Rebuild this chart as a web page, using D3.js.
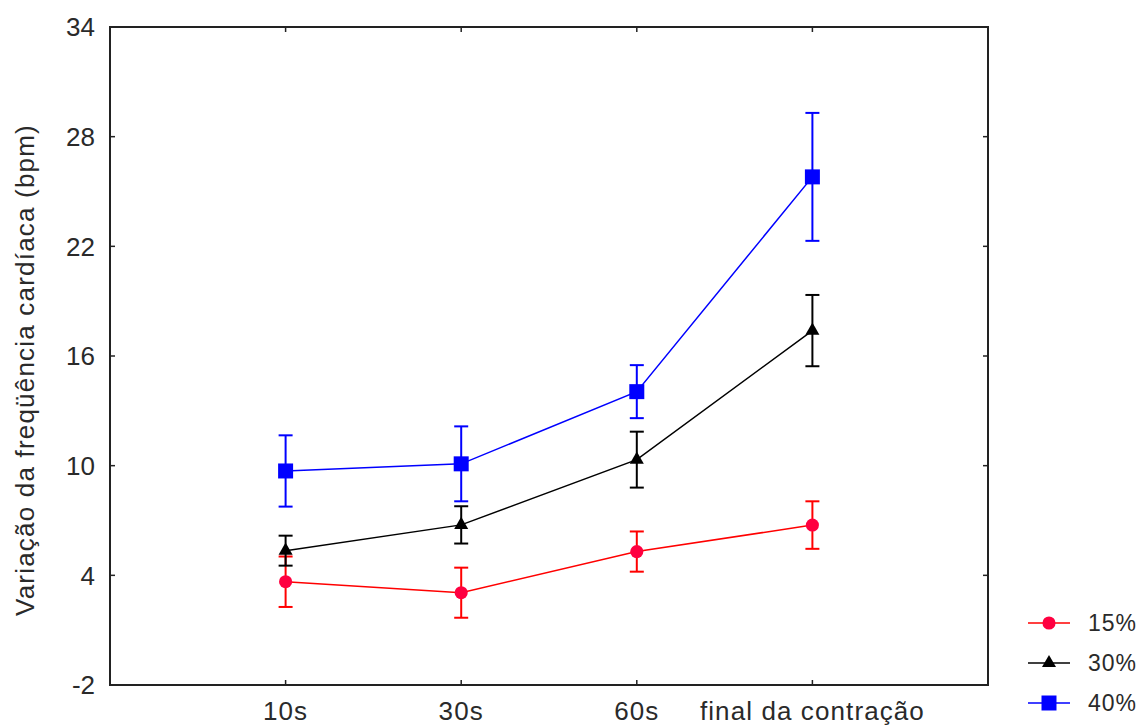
<!DOCTYPE html>
<html>
<head>
<meta charset="utf-8">
<script src="https://cdn.jsdelivr.net/npm/d3@7"></script>
<style>
  body { margin: 0; background: #fff; }
  svg { display: block; font-family: "Liberation Sans", Arial, sans-serif; }
</style>
</head>
<body>
<div id="chart"></div>
<script>
// pontos no tempo e médias ± erro por intensidade
const categories = ['10s', '30s', '60s', 'final da contração'];
const yTicks = [-2, 4, 10, 16, 22, 28, 34];

const mean15 = [3.65, 3.05, 5.3, 6.75];
const err15 = [1.38, 1.37, 1.1, 1.3];
const mean30 = [5.35, 6.76, 10.33, 17.39];
const err30 = [0.82, 1.02, 1.53, 1.95];
const mean40 = [9.71, 10.1, 14.05, 25.8];
const err40 = [1.95, 2.05, 1.45, 3.5];

const seriesNames = ['15%', '30%', '40%'];

const width = 1141, height = 726;
const margin = { left: 110, right: 153, top: 27, bottom: 41 };

const series = [
  { name: seriesNames[0], mean: mean15, err: err15, line: '#ff0000', fill: '#ff0040', shape: d3.symbolCircle, size: 135 },
  { name: seriesNames[1], mean: mean30, err: err30, line: '#000000', fill: '#000000', shape: d3.symbolTriangle, size: 85 },
  { name: seriesNames[2], mean: mean40, err: err40, line: '#0000ff', fill: '#0000ff', shape: d3.symbolSquare, size: 225 }
];

const svg = d3.select('#chart').append('svg')
  .attr('width', width)
  .attr('height', height);

const x = d3.scalePoint()
  .domain(categories)
  .range([margin.left, width - margin.right])
  .padding(1);

const y = d3.scaleLinear()
  .domain([-2, 34])
  .range([height - margin.bottom, margin.top]);

const x0 = margin.left, x1 = width - margin.right;
const y0 = height - margin.bottom, y1 = margin.top;

// ticks para dentro nos quatro lados
const ticks = svg.append('g').attr('stroke', '#222').attr('stroke-width', 1.5);
ticks.selectAll('.yl').data(yTicks).join('line')
  .attr('x1', x0).attr('x2', x0 + 5).attr('y1', d => y(d)).attr('y2', d => y(d));
ticks.selectAll('.yr').data(yTicks).join('line')
  .attr('x1', x1).attr('x2', x1 - 5).attr('y1', d => y(d)).attr('y2', d => y(d));
ticks.selectAll('.xb').data(categories).join('line')
  .attr('x1', d => x(d)).attr('x2', d => x(d)).attr('y1', y0).attr('y2', y0 - 5);
ticks.selectAll('.xt').data(categories).join('line')
  .attr('x1', d => x(d)).attr('x2', d => x(d)).attr('y1', y1).attr('y2', y1 + 5);

svg.append('rect')
  .attr('x', x0).attr('y', y1)
  .attr('width', x1 - x0).attr('height', y0 - y1)
  .attr('fill', 'none')
  .attr('stroke', '#222')
  .attr('stroke-width', 2);

svg.append('g').selectAll('text').data(yTicks).join('text')
  .attr('x', x0 - 15)
  .attr('y', d => y(d))
  .attr('dy', '0.36em')
  .attr('text-anchor', 'end')
  .attr('font-size', 26)
  .attr('fill', '#2a2a2a')
  .text(d => d);

svg.append('g').selectAll('text').data(categories).join('text')
  .attr('x', d => x(d))
  .attr('y', y0 + 35)
  .attr('text-anchor', 'middle')
  .attr('font-size', 26)
  .attr('letter-spacing', 1.1)
  .attr('fill', '#2a2a2a')
  .text(d => d);

svg.append('text')
  .attr('transform', `translate(34,370) rotate(-90)`)
  .attr('text-anchor', 'middle')
  .attr('font-size', 26)
  .attr('letter-spacing', 1.2)
  .attr('fill', '#2a2a2a')
  .text('Variação da freqüência cardíaca (bpm)');

const line = d3.line()
  .x((d, i) => x(categories[i]))
  .y(d => y(d));

series.forEach(s => {
  const g = svg.append('g');
  g.append('path')
    .attr('d', line(s.mean))
    .attr('fill', 'none')
    .attr('stroke', s.line)
    .attr('stroke-width', 1.5);

  const pts = s.mean.map((m, i) => ({ c: categories[i], m, e: s.err[i] }));
  const eb = g.append('g').attr('stroke', s.line).attr('stroke-width', 2);
  eb.selectAll('.v').data(pts).join('line')
    .attr('x1', d => x(d.c)).attr('x2', d => x(d.c))
    .attr('y1', d => y(d.m + d.e)).attr('y2', d => y(d.m - d.e));
  eb.selectAll('.t').data(pts).join('line')
    .attr('x1', d => x(d.c) - 7).attr('x2', d => x(d.c) + 7)
    .attr('y1', d => y(d.m + d.e)).attr('y2', d => y(d.m + d.e));
  eb.selectAll('.b').data(pts).join('line')
    .attr('x1', d => x(d.c) - 7).attr('x2', d => x(d.c) + 7)
    .attr('y1', d => y(d.m - d.e)).attr('y2', d => y(d.m - d.e));

  g.selectAll('path.mk').data(pts).join('path')
    .attr('class', 'mk')
    .attr('transform', d => `translate(${x(d.c)},${y(d.m)})`)
    .attr('d', d3.symbol().type(s.shape).size(s.size))
    .attr('fill', s.fill);
});

// legenda
const legend = svg.append('g');
const legY = d3.scalePoint().domain(seriesNames).range([623, 703]);
series.forEach(s => {
  const ly = legY(s.name);
  legend.append('line')
    .attr('x1', 1028).attr('x2', 1070)
    .attr('y1', ly).attr('y2', ly)
    .attr('stroke', s.line).attr('stroke-width', 1.5);
  legend.append('path')
    .attr('transform', `translate(1049,${ly})`)
    .attr('d', d3.symbol().type(s.shape).size(s.size))
    .attr('fill', s.fill);
  legend.append('text')
    .attr('x', 1088).attr('y', ly)
    .attr('dy', '0.36em')
    .attr('font-size', 23)
    .attr('letter-spacing', 1)
    .attr('fill', '#2a2a2a')
    .text(s.name);
});
</script>
</body>
</html>
